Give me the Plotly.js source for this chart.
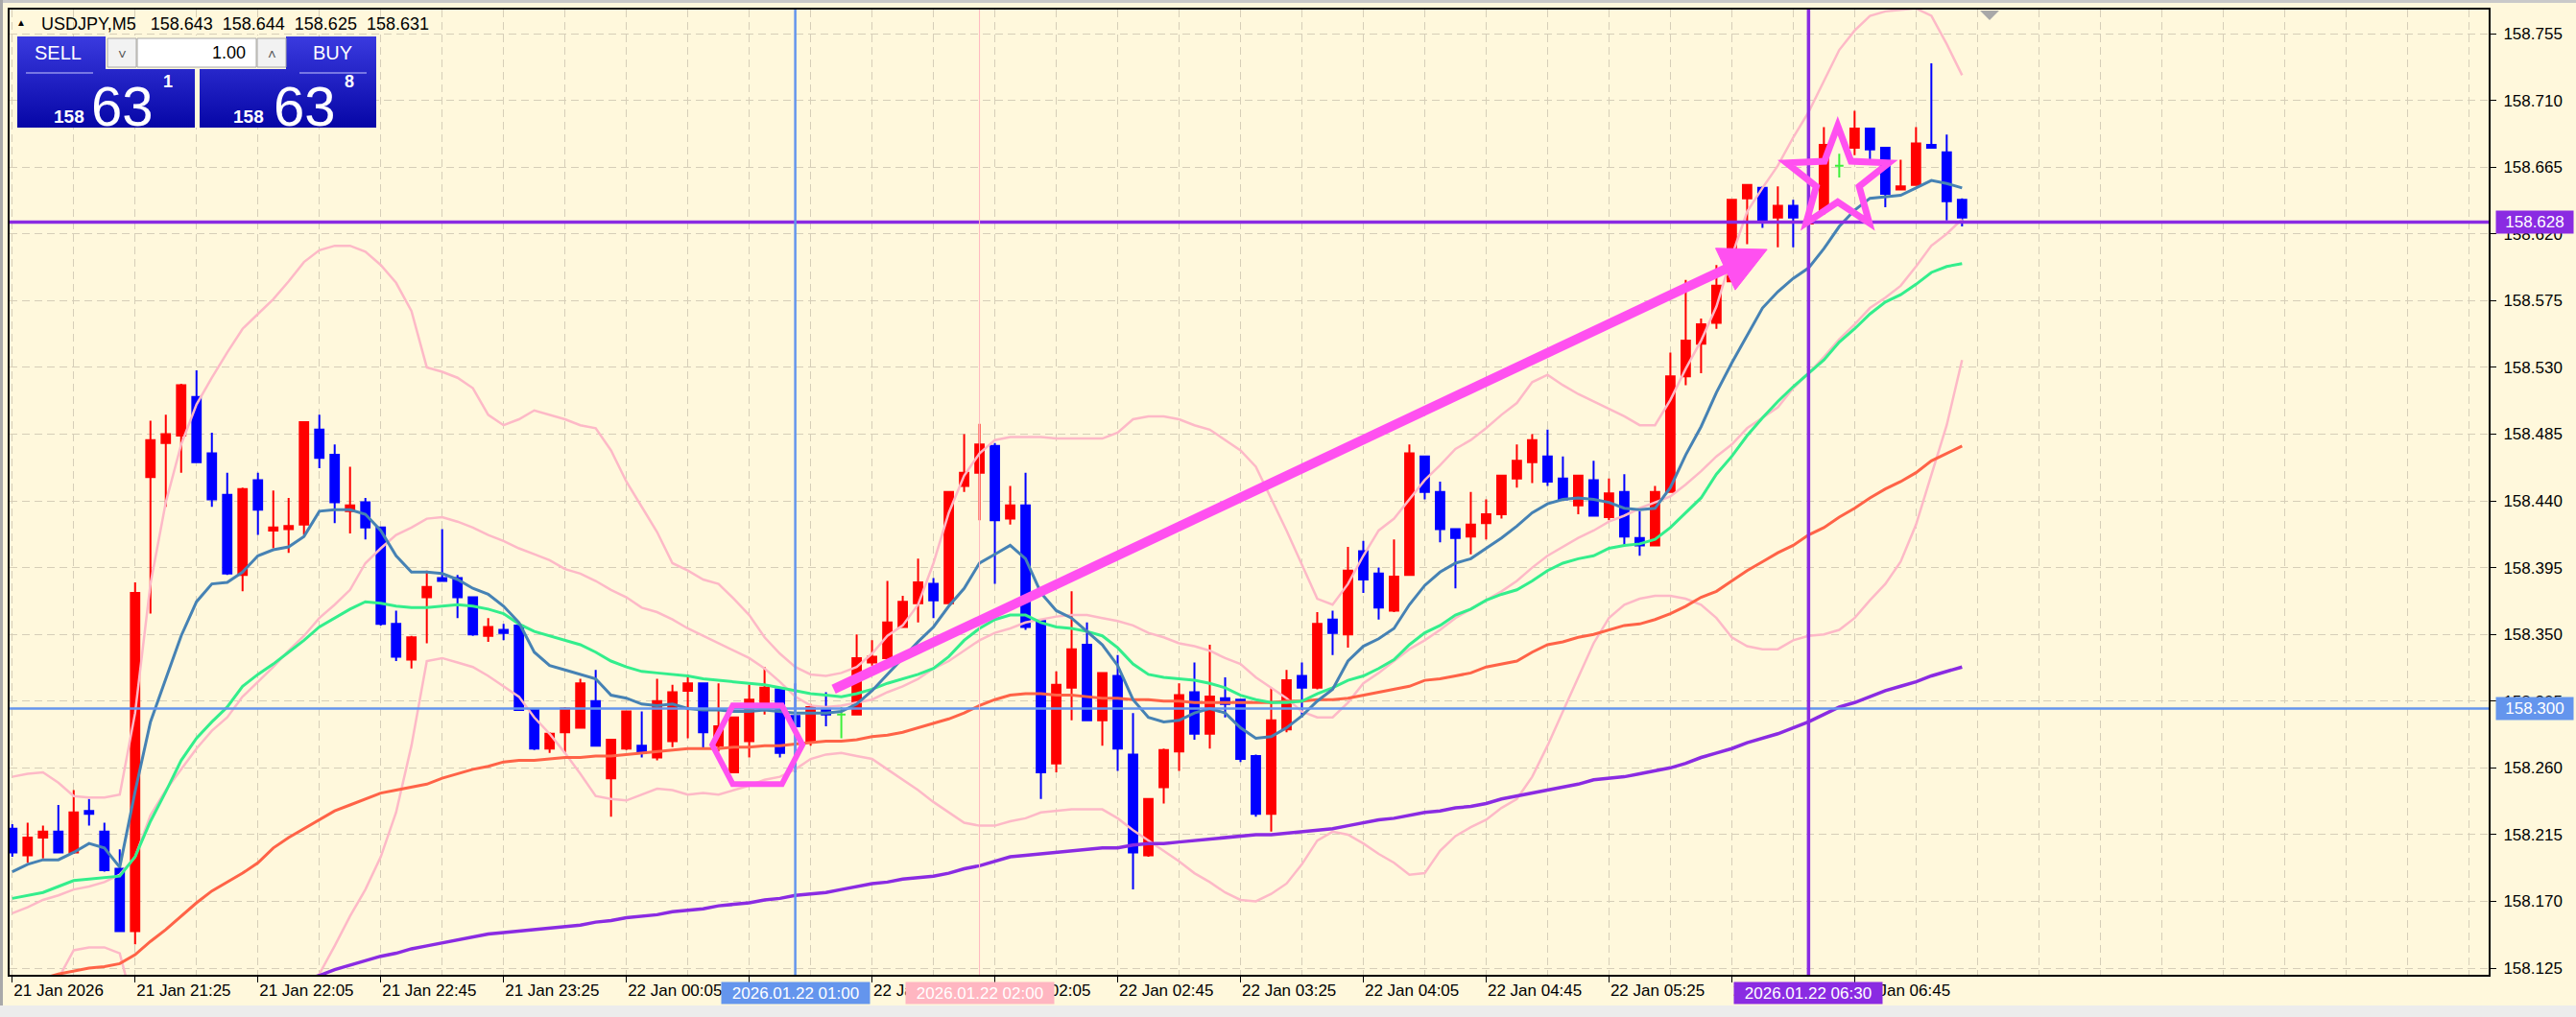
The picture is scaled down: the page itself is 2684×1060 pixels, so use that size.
<!DOCTYPE html>
<html><head><meta charset="utf-8">
<script src="https://cdn.plot.ly/plotly-3.0.1.min.js"></script>
<style>html,body{margin:0;padding:0;background:#FFF8DC;overflow:hidden}#chart{width:2684px;height:1060px}</style>
</head><body><div id="chart"></div>
<script>
// ---------------- DATA (USDJPY M5, 21 Jan 20:45 .. 22 Jan 07:20) ----------------
const symbolInfo = 'USDJPY,M5';
const lastQuote = ['158.643', '158.644', '158.625', '158.631'];

const open = [158.219,158.201,158.213,158.217,158.203,158.231,158.217,158.192,158.150,158.456,
158.479,158.484,158.510,158.472,158.444,158.390,158.454,158.420,158.421,158.424,
158.488,158.471,158.433,158.439,158.422,158.357,158.333,158.375,158.388,158.388,
158.375,158.349,158.353,158.356,158.299,158.273,158.284,158.287,158.305,158.253,
158.273,158.275,158.267,158.278,158.312,158.317,158.275,158.257,158.278,158.304,
158.313,158.295,158.278,158.300,158.296,158.296,158.331,158.334,158.355,158.371,
158.384,158.371,158.450,158.459,158.477,158.428,158.437,158.359,158.263,158.314,
158.343,158.292,158.322,158.269,158.201,158.247,158.271,158.311,158.283,158.307,
158.306,158.268,158.229,158.286,158.322,158.314,158.360,158.350,158.406,158.391,
158.366,158.390,158.470,158.446,158.421,158.416,158.425,158.431,158.455,158.466,
158.470,158.455,158.437,158.454,158.429,158.446,158.415,158.410,158.446,158.524,
158.546,158.560,158.588,158.644,158.651,158.631,158.639,158.627,158.636,158.666,
158.678,158.691,158.678,158.650,158.653,158.680,158.675,158.643];
const high = [158.222,158.223,158.221,158.235,158.245,158.239,158.223,158.205,158.385,158.494,
158.498,158.519,158.528,158.486,158.459,158.449,158.459,158.447,158.442,158.493,
158.498,158.478,158.463,158.442,158.422,158.366,158.349,158.393,158.421,158.390,
158.375,158.361,158.357,158.358,158.300,158.284,158.301,158.320,158.326,158.279,
158.298,158.298,158.320,158.316,158.323,158.317,158.317,158.294,158.316,158.328,
158.314,158.317,158.303,158.311,158.301,158.350,158.346,158.386,158.376,158.401,
158.388,158.446,158.485,158.492,158.479,158.450,158.459,158.359,158.325,158.379,
158.358,158.324,158.336,158.297,158.239,158.273,158.317,158.331,158.343,158.321,
158.306,158.269,158.314,158.326,158.331,158.365,158.366,158.409,158.413,158.395,
158.414,158.478,158.470,158.453,158.421,158.446,158.441,158.457,158.478,158.485,
158.488,158.470,158.457,158.467,158.455,158.458,158.433,158.450,158.540,158.589,
158.563,158.599,158.643,158.653,158.652,158.652,158.643,158.632,158.692,158.674,
158.703,158.691,158.678,158.670,158.692,158.735,158.687,158.644];
const low = [158.200,158.196,158.199,158.203,158.202,158.221,158.190,158.150,158.141,158.364,
158.436,158.459,158.466,158.436,158.390,158.379,158.417,158.408,158.405,158.417,
158.462,158.425,158.418,158.414,158.356,158.332,158.327,158.344,158.386,158.361,
158.349,158.345,158.346,158.299,158.272,158.270,158.270,158.287,158.275,158.227,
158.272,158.267,158.265,158.274,158.280,158.273,158.271,158.257,158.267,158.296,
158.267,158.257,158.275,158.288,158.280,158.296,158.329,158.334,158.355,158.358,
158.361,158.371,158.446,158.427,158.384,158.424,158.353,158.239,158.257,158.292,
158.292,158.275,158.258,158.178,158.200,158.236,158.258,158.279,158.273,158.294,
158.264,158.227,158.217,158.284,158.294,158.313,158.336,158.341,158.378,158.360,
158.365,158.390,158.441,158.412,158.381,158.404,158.414,158.428,158.449,158.452,
158.450,158.440,158.431,158.430,158.427,158.410,158.403,158.410,158.446,158.518,
158.526,158.556,158.588,158.613,158.624,158.611,158.611,158.625,158.633,158.658,
158.673,158.670,158.638,158.650,158.653,158.678,158.629,158.625];
const close = [158.203,158.213,158.217,158.203,158.230,158.229,158.191,158.150,158.378,158.481,
158.485,158.518,158.466,158.441,158.391,158.448,158.434,158.422,158.423,158.493,
158.469,158.439,158.437,158.422,158.357,158.335,158.348,158.382,158.386,158.375,
158.350,158.355,158.351,158.299,158.273,158.283,158.300,158.317,158.275,158.279,
158.298,158.270,158.305,158.311,158.317,158.284,158.288,158.294,158.306,158.314,
158.270,158.288,158.301,158.296,158.296,158.334,158.335,158.358,158.372,158.385,
158.373,158.446,158.459,158.478,158.427,158.437,158.355,158.257,158.316,158.340,
158.292,158.324,158.273,158.203,158.239,158.272,158.309,158.283,158.308,158.303,
158.266,158.229,158.292,158.319,158.314,158.357,158.351,158.393,158.387,158.368,
158.389,158.472,158.446,158.421,158.415,158.424,158.431,158.457,158.467,158.481,
158.453,158.441,158.457,158.430,158.445,158.416,158.410,158.446,158.524,158.548,
158.559,158.585,158.643,158.653,158.629,158.639,158.631,158.629,158.680,158.666,
158.691,158.677,158.647,158.652,158.681,158.678,158.642,158.631];

// moving averages
const maFast = [158.190,158.195,158.198,158.198,158.203,158.209,158.206,158.193,158.244,158.291,
158.320,158.349,158.372,158.384,158.385,158.392,158.403,158.407,158.409,158.416,
158.433,158.434,158.434,158.431,158.420,158.403,158.392,158.392,158.391,158.387,
158.381,158.377,158.369,158.358,158.338,158.329,158.326,158.323,158.320,158.309,
158.307,158.303,158.302,158.303,158.300,158.299,158.299,158.298,158.298,158.299,
158.298,158.297,158.297,158.297,158.298,158.303,158.312,158.323,158.334,158.345,
158.355,158.369,158.381,158.398,158.404,158.410,158.401,158.378,158.366,158.361,
158.352,158.343,158.329,158.306,158.294,158.291,158.292,158.297,158.300,158.297,
158.287,158.280,158.281,158.287,158.295,158.305,158.313,158.332,158.342,158.347,
158.354,158.370,158.383,158.392,158.398,158.401,158.408,158.415,158.423,158.432,
158.438,158.441,158.442,158.441,158.439,158.435,158.434,158.435,158.449,158.471,
158.490,158.513,158.533,158.552,158.570,158.581,158.590,158.597,158.610,158.625,
158.636,158.644,158.645,158.646,158.651,158.656,158.654,158.651];
const maMid = [158.172,158.174,158.176,158.180,158.184,158.185,158.186,158.187,158.200,158.224,
158.244,158.265,158.280,158.291,158.301,158.315,158.323,158.330,158.338,158.346,
158.355,158.361,158.367,158.372,158.371,158.369,158.368,158.368,158.369,158.370,
158.369,158.367,158.364,158.357,158.352,158.349,158.346,158.343,158.338,158.332,
158.328,158.325,158.324,158.323,158.322,158.320,158.319,158.318,158.317,158.316,
158.314,158.312,158.310,158.309,158.308,158.310,158.313,158.317,158.320,158.323,
158.327,158.335,158.346,158.354,158.360,158.363,158.363,158.358,158.355,158.354,
158.352,158.349,158.341,158.330,158.323,158.321,158.320,158.319,158.317,158.314,
158.309,158.306,158.304,158.304,158.305,158.310,158.314,158.319,158.322,158.327,
158.333,158.343,158.351,158.356,158.363,158.367,158.373,158.377,158.380,158.386,
158.393,158.398,158.401,158.403,158.408,158.410,158.411,158.414,158.422,158.432,
158.442,158.458,158.470,158.484,158.496,158.507,158.517,158.526,158.535,158.547,
158.556,158.566,158.574,158.579,158.586,158.594,158.598,158.600];
const maSlow = [158.114,158.116,158.118,158.121,158.123,158.125,158.126,158.128,158.134,158.143,
158.151,158.160,158.169,158.177,158.183,158.189,158.196,158.206,158.213,158.219,
158.225,158.231,158.235,158.239,158.243,158.245,158.247,158.249,158.253,158.256,
158.259,158.261,158.264,158.265,158.265,158.266,158.267,158.267,158.268,158.268,
158.269,158.270,158.271,158.272,158.273,158.273,158.273,158.274,158.274,158.275,
158.275,158.276,158.277,158.278,158.278,158.279,158.281,158.282,158.284,158.287,
158.290,158.293,158.297,158.302,158.306,158.309,158.310,158.310,158.309,158.309,
158.308,158.307,158.307,158.306,158.306,158.305,158.305,158.304,158.304,158.304,
158.304,158.304,158.304,158.305,158.305,158.306,158.306,158.307,158.309,158.311,
158.313,158.315,158.319,158.320,158.322,158.324,158.328,158.330,158.332,158.338,
158.343,158.345,158.348,158.350,158.353,158.356,158.357,158.360,158.364,158.369,
158.375,158.379,158.386,158.393,158.399,158.405,158.410,158.417,158.422,158.429,
158.435,158.442,158.448,158.453,158.459,158.467,158.472,158.477];
const maLong = [null,null,null,null,null,null,null,null,null,null,
null,null,null,null,null,null,null,null,null,158.117,
158.120,158.124,158.127,158.130,158.133,158.135,158.138,158.140,158.142,158.144,
158.146,158.148,158.149,158.150,158.151,158.152,158.153,158.154,158.156,158.157,
158.159,158.160,158.161,158.163,158.164,158.165,158.167,158.168,158.169,158.171,
158.172,158.174,158.175,158.176,158.178,158.180,158.182,158.183,158.185,158.186,
158.187,158.189,158.192,158.194,158.197,158.200,158.201,158.202,158.203,158.204,
158.205,158.206,158.206,158.208,158.209,158.209,158.210,158.211,158.212,158.213,
158.214,158.215,158.215,158.216,158.217,158.218,158.219,158.221,158.223,158.225,
158.226,158.228,158.230,158.231,158.233,158.234,158.236,158.239,158.241,158.243,
158.245,158.247,158.249,158.252,158.253,158.254,158.256,158.258,158.260,158.263,
158.267,158.270,158.273,158.277,158.280,158.283,158.287,158.291,158.296,158.301,
158.304,158.308,158.312,158.315,158.318,158.322,158.325,158.328];

// Bollinger bands
const bbUpper = [158.254,158.256,158.257,158.250,158.241,158.240,158.240,158.242,158.297,158.384,
158.439,158.478,158.505,158.523,158.540,158.556,158.566,158.576,158.588,158.601,
158.609,158.612,158.612,158.608,158.599,158.587,158.568,158.530,158.527,158.523,
158.516,158.498,158.491,158.495,158.501,158.498,158.495,158.491,158.489,158.474,
158.453,158.436,158.419,158.398,158.393,158.387,158.384,158.374,158.363,158.348,
158.337,158.328,158.323,158.322,158.324,158.328,158.337,158.349,158.356,158.370,
158.398,158.432,158.457,158.472,158.481,158.483,158.483,158.483,158.482,158.482,
158.482,158.482,158.486,158.495,158.497,158.497,158.495,158.491,158.488,158.481,
158.474,158.463,158.442,158.420,158.397,158.374,158.370,158.384,158.403,158.420,
158.428,158.441,158.454,158.464,158.475,158.481,158.489,158.498,158.506,158.520,
158.525,158.518,158.512,158.507,158.502,158.497,158.491,158.491,158.508,158.529,
158.548,158.571,158.605,158.635,158.651,158.666,158.685,158.702,158.723,158.744,
158.757,158.767,158.770,158.771,158.772,158.767,158.748,158.727];
const bbMiddle = [158.162,158.166,158.171,158.174,158.178,158.180,158.183,158.188,158.200,158.228,
158.245,158.259,158.273,158.285,158.294,158.308,158.318,158.328,158.339,158.349,
158.361,158.370,158.380,158.398,158.408,158.417,158.422,158.428,158.429,158.426,
158.422,158.417,158.413,158.408,158.404,158.400,158.394,158.391,158.386,158.380,
158.375,158.368,158.365,158.360,158.354,158.349,158.344,158.339,158.334,158.327,
158.318,158.308,158.302,158.301,158.302,158.304,158.306,158.311,158.315,158.320,
158.327,158.332,158.339,158.346,158.351,158.354,158.358,158.360,158.362,158.363,
158.363,158.361,158.359,158.356,158.351,158.348,158.344,158.342,158.339,158.334,
158.330,158.321,158.314,158.307,158.298,158.294,158.294,158.304,158.317,158.324,
158.332,158.340,158.346,158.353,158.361,158.367,158.373,158.379,158.386,158.395,
158.403,158.409,158.415,158.420,158.426,158.430,158.435,158.439,158.443,158.451,
158.460,158.470,158.478,158.489,158.496,158.503,158.516,158.526,158.537,158.549,
158.559,158.570,158.577,158.585,158.598,158.612,158.620,158.630];
const bbLower = [158.070,158.085,158.100,158.118,158.137,158.139,158.139,158.135,158.095,null,
null,null,null,null,null,null,null,null,null,158.095,
158.121,158.140,158.160,158.178,158.200,158.230,158.275,158.332,158.334,158.331,
158.328,158.322,158.315,158.308,158.294,158.283,158.270,158.256,158.241,158.239,
158.238,158.242,158.246,158.245,158.242,158.243,158.242,158.245,158.248,158.252,
158.254,158.259,158.266,158.269,158.270,158.268,158.266,158.259,158.252,158.245,
158.237,158.230,158.223,158.221,158.221,158.224,158.226,158.230,158.231,158.232,
158.232,158.232,158.226,158.218,158.211,158.204,158.197,158.189,158.183,158.176,
158.171,158.170,158.175,158.182,158.195,158.211,158.217,158.215,158.209,158.202,
158.196,158.188,158.189,158.204,158.214,158.220,158.225,158.233,158.239,158.254,
158.275,158.298,158.321,158.344,158.361,158.370,158.374,158.376,158.376,158.374,
158.370,158.361,158.348,158.342,158.340,158.340,158.346,158.349,158.350,158.353,
158.361,158.373,158.384,158.399,158.424,158.458,158.491,158.535];

// axis ticks
const xTickBars = [0,8,16,24,32,40,48,56,64,72,80,88,96,104,112,120];
const xTickLabels = ['21 Jan 2026','21 Jan 21:25','21 Jan 22:05','21 Jan 22:45','21 Jan 23:25',
'22 Jan 00:05','22 Jan 00:45','22 Jan 01:25','22 Jan 02:05','22 Jan 02:45','22 Jan 03:25',
'22 Jan 04:05','22 Jan 04:45','22 Jan 05:25','22 Jan 06:05','22 Jan 06:45'];
const yTickVals = [158.125,158.170,158.215,158.260,158.305,158.350,158.395,158.440,158.485,
158.530,158.575,158.620,158.665,158.710,158.755];

// drawn objects
const hLinePrices = [158.300, 158.628];
const vLineBars = [51, 63, 117];
const vLineLabels = ['2026.01.22 01:00', '2026.01.22 02:00', '2026.01.22 06:30'];
const arrowFrom = [53.5, 158.313];
const arrowTo = [114.3, 158.6095];
const hexCenter = [48.53, 158.2755];
const starCenter = [118.9, 158.6567];
const sellQuote = ['158', '63', '1'];
const buyQuote = ['158', '63', '8'];
const lotSize = '1.00';

// ---------------- LAYOUT / STYLE ----------------
const FONT = 'Liberation Sans, Arial, sans-serif';
const CREAM = '#FFF8DC';
const GRID = '#D6CEB8';
const MAG = '#FF50F0';
const PINK = '#FDB9C7';
const W = 2684, H = 1060;
const M = {l: 10, r: 91, t: 10, b: 44};
const PW = W - M.l - M.r, PH = H - M.t - M.b;
const xRange = [-0.175, 161.3];
const yRange = [158.1205, 158.7712];
const pxPerBar = PW / (xRange[1] - xRange[0]);
const pxPerPrice = PH / (yRange[1] - yRange[0]);
const PX = px => (px - M.l) / PW;
const PY = py => (M.t + PH - py) / PH;
const b2px = b => M.l + (b - xRange[0]) * pxPerBar;
const p2py = p => M.t + (yRange[1] - p) * pxPerPrice;
const px2b = px => xRange[0] + (px - M.l) / pxPerBar;
const py2p = py => yRange[1] - (py - M.t) / pxPerPrice;
const pathFromPx = (pts, closed) => pts.map((q, k) => (k ? 'L' : 'M') + px2b(q[0]).toFixed(4) + ',' + py2p(q[1]).toFixed(5)).join(' ') + (closed ? ' Z' : '');

const bars = open.map((_, i) => i);
const isDoji = bars.map(i => open[i] === close[i]);
const pick = (arr, want) => bars.filter(i => isDoji[i] === want).map(i => arr[i]);

const traces = [];
traces.push({type: 'candlestick', x: pick(bars, false), open: pick(open, false), high: pick(high, false),
  low: pick(low, false), close: pick(close, false), whiskerwidth: 0, hoverinfo: 'skip',
  increasing: {line: {color: '#FF0000', width: 2}, fillcolor: '#FF0000'},
  decreasing: {line: {color: '#0000FF', width: 2}, fillcolor: '#0000FF'}});
traces.push({type: 'candlestick', x: pick(bars, true), open: pick(open, true), high: pick(high, true),
  low: pick(low, true), close: pick(close, true), whiskerwidth: 0, hoverinfo: 'skip',
  increasing: {line: {color: '#3CF03C', width: 2}, fillcolor: '#3CF03C'},
  decreasing: {line: {color: '#3CF03C', width: 2}, fillcolor: '#3CF03C'}});
const lineTrace = (y, color, width) => ({type: 'scatter', mode: 'lines', x: bars, y: y,
  line: {color: color, width: width}, hoverinfo: 'skip', connectgaps: false});
traces.push(lineTrace(bbUpper, PINK, 2.5));
traces.push(lineTrace(bbMiddle, PINK, 2.5));
traces.push(lineTrace(bbLower, PINK, 2.5));
traces.push(lineTrace(maLong, '#8A2BE2', 3.5));
traces.push(lineTrace(maSlow, '#FF6347', 3));
traces.push(lineTrace(maMid, '#33EE8C', 3));
traces.push(lineTrace(maFast, '#4682B4', 3));

// one-click trading panel (pixel axes overlay)
const panelBox = (pts) => ({type: 'scatter', xaxis: 'x2', yaxis: 'y2', mode: 'lines',
  x: pts.map(q => q[0]), y: pts.map(q => q[1]), line: {width: 0, color: 'rgba(0,0,0,0)'},
  fill: 'toself', fillcolor: '#1818C0', hoverinfo: 'skip',
  fillgradient: {type: 'vertical', colorscale: [[0, '#3A3ADF'], [1, '#0606A6']], start: 38, stop: 133}});
traces.push(panelBox([[18,38],[110,38],[110,72],[203,72],[203,133],[18,133],[18,38]]));
traces.push(panelBox([[298,38],[392,38],[392,133],[208,133],[208,72],[298,72],[298,38]]));

// ---------------- SHAPES ----------------
const shapes = [];
const hStyles = [{color: '#6495ED', width: 2.5}, {color: '#8A2BE2', width: 3.5}];
hLinePrices.forEach((p, k) => shapes.push({type: 'line', xref: 'paper', x0: 0, x1: 1, yref: 'y', y0: p, y1: p,
  line: hStyles[k], layer: 'above'}));
const vStyles = [{color: '#6495ED', width: 2.5}, {color: '#FFB6C1', width: 1}, {color: '#8A2BE2', width: 3.5}];
vLineBars.forEach((b, k) => shapes.push({type: 'line', xref: 'x', x0: b, x1: b, yref: 'paper', y0: 0, y1: 1,
  line: vStyles[k], layer: 'above'}));

// hexagon
(function () {
  const cx = b2px(hexCenter[0]), cy = p2py(hexCenter[1]);
  const hw = 47, hh = 41, ht = 25.6;
  const pts = [[cx - hw, cy], [cx - ht, cy - hh], [cx + ht, cy - hh], [cx + hw, cy], [cx + ht, cy + hh], [cx - ht, cy + hh]];
  shapes.push({type: 'path', xref: 'x', yref: 'y', path: pathFromPx(pts, true), line: {color: MAG, width: 6}, layer: 'above'});
})();
// arrow
(function () {
  const sx = b2px(arrowFrom[0]), sy = p2py(arrowFrom[1]);
  const tx = b2px(arrowTo[0]), ty = p2py(arrowTo[1]);
  const len = Math.hypot(tx - sx, ty - sy), ux = (tx - sx) / len, uy = (ty - sy) / len;
  const nx = -uy, ny = ux, headL = 48, headW = 24;
  const bx = tx - ux * headL, by = ty - uy * headL;
  shapes.push({type: 'path', xref: 'x', yref: 'y', path: pathFromPx([[sx, sy], [bx + ux * 6, by + uy * 6]], false),
    line: {color: MAG, width: 10}, layer: 'above'});
  shapes.push({type: 'path', xref: 'x', yref: 'y', path: pathFromPx([[tx, ty], [bx + nx * headW, by + ny * headW], [bx - nx * headW, by - ny * headW]], true),
    line: {color: MAG, width: 1}, fillcolor: MAG, layer: 'above'});
})();
// star
(function () {
  const cx = b2px(starCenter[0]), cy = p2py(starCenter[1]);
  const R = 56, r = 23.5, pts = [];
  for (let k = 0; k < 10; k++) {
    const a = -Math.PI / 2 + k * Math.PI / 5, rr = k % 2 ? r : R;
    pts.push([cx + rr * Math.cos(a), cy + rr * Math.sin(a)]);
  }
  shapes.push({type: 'path', xref: 'x', yref: 'y', path: pathFromPx(pts, true), line: {color: MAG, width: 7}, layer: 'above'});
})();

// window frame strips
const paperRect = (x0, y0, x1, y1, fill, lineColor, lw) => ({type: 'rect', xref: 'paper', yref: 'paper',
  x0: PX(x0), x1: PX(x1), y0: PY(y1), y1: PY(y0), fillcolor: fill,
  line: {color: lineColor || fill, width: lw === undefined ? 0 : lw}, layer: 'above'});
shapes.push(paperRect(0, 0, W, 3, '#C9C9C9'));
shapes.push(paperRect(0, 0, 3, H, '#A9A9A9'));
shapes.push(paperRect(0, 1048, W, H, '#ECECEC'));
// chart shift marker
shapes.push({type: 'path', xref: 'paper', yref: 'paper', fillcolor: '#A8A8A8', line: {width: 0},
  path: 'M' + PX(2063) + ',' + PY(11) + ' L' + PX(2083) + ',' + PY(11) + ' L' + PX(2073) + ',' + PY(21) + ' Z', layer: 'above'});
// panel controls
shapes.push(paperRect(110, 37, 298, 72, CREAM));
shapes.push(paperRect(203, 72, 208, 133, CREAM));
shapes.push(paperRect(112, 40, 142, 70, '#F2F2F2', '#A8A8A8', 1));
shapes.push(paperRect(143, 40, 267, 70, '#FFFFFF', '#A8A8A8', 1));
shapes.push(paperRect(268, 40, 298, 70, '#F2F2F2', '#A8A8A8', 1));
shapes.push({type: 'line', xref: 'paper', yref: 'paper', x0: PX(27), x1: PX(97), y0: PY(76), y1: PY(76), line: {color: '#C8C8FF', width: 1}, layer: 'above'});
shapes.push({type: 'line', xref: 'paper', yref: 'paper', x0: PX(312), x1: PX(382), y0: PY(76), y1: PY(76), line: {color: '#C8C8FF', width: 1}, layer: 'above'});

// ---------------- ANNOTATIONS ----------------
const ann = [];
const txt = (px, py, text, size, color, anchor, extra) => Object.assign({xref: 'paper', yref: 'paper', x: PX(px), y: PY(py),
  text: text, showarrow: false, xanchor: anchor || 'center', yanchor: 'middle',
  font: {family: FONT, size: size, color: color}}, extra || {});
ann.push(txt(22, 24, '\u25B2', 10, '#000'));
ann.push(txt(41, 25, symbolInfo + '\u00A0\u00A0\u00A0' + lastQuote.join('\u00A0 '), 18, '#000', 'left'));
ann.push(txt(60, 55, 'SELL', 20, '#FFFFFF'));
ann.push(txt(346.5, 55, 'BUY', 20, '#FFFFFF'));
ann.push(txt(71.5, 122, '<b>' + sellQuote[0] + '</b>', 19, '#FFFFFF'));
ann.push(txt(127.5, 110, sellQuote[1], 58, '#FFFFFF'));
ann.push(txt(175, 85, '<b>' + sellQuote[2] + '</b>', 18, '#FFFFFF'));
ann.push(txt(259, 122, '<b>' + buyQuote[0] + '</b>', 19, '#FFFFFF'));
ann.push(txt(317.5, 110, buyQuote[1], 58, '#FFFFFF'));
ann.push(txt(364, 85, '<b>' + buyQuote[2] + '</b>', 18, '#FFFFFF'));
ann.push(txt(258, 55, lotSize, 18, '#000', 'right'));
ann.push(txt(127, 56, '\u02C5', 15, '#555'));
ann.push(txt(283, 56, '\u02C4', 15, '#555'));
// price labels on the axis
const hBoxColors = ['#6495ED', '#8A2BE2'];
hLinePrices.forEach((p, k) => ann.push({xref: 'paper', yref: 'y', x: PX(2600), y: p, xanchor: 'left', yanchor: 'middle',
  text: p.toFixed(3), showarrow: false, bgcolor: hBoxColors[k], width: 80, height: 23, borderpad: 0, align: 'center',
  font: {family: FONT, size: 17, color: '#FFFFFF'}}));
// time labels on the axis
const vBoxColors = ['#6495ED', '#FFB6C1', '#8A2BE2'];
vLineBars.forEach((b, k) => ann.push({xref: 'x', yref: 'paper', x: b, y: PY(1035), xanchor: 'center', yanchor: 'middle',
  text: vLineLabels[k], showarrow: false, bgcolor: vBoxColors[k], width: 154, height: 22, borderpad: 0, align: 'center',
  font: {family: FONT, size: 17, color: '#FFFFFF'}}));

const layout = {
  width: W, height: H, margin: M, showlegend: false,
  paper_bgcolor: CREAM, plot_bgcolor: CREAM,
  font: {family: FONT, size: 17, color: '#000'},
  boxgap: 0.45, boxgroupgap: 0,
  xaxis: {type: 'linear', range: xRange, fixedrange: true, rangeslider: {visible: false},
    tickmode: 'array', tickvals: xTickBars, ticktext: xTickLabels,
    ticks: 'outside', ticklen: 6, tickwidth: 1, tickcolor: '#000', ticklabelposition: 'outside right',
    tickfont: {family: FONT, size: 17, color: '#000'},
    showgrid: true, gridcolor: GRID, gridwidth: 1, griddash: '8px,5px',
    minor: {tickmode: 'linear', tick0: 0, dtick: 4, showgrid: true, gridcolor: GRID, gridwidth: 1, griddash: '8px,5px', ticks: ''},
    showline: true, linecolor: '#000', linewidth: 2, mirror: true, zeroline: false},
  yaxis: {side: 'right', range: yRange, fixedrange: true,
    tickmode: 'array', tickvals: yTickVals, ticktext: yTickVals.map(v => v.toFixed(3)),
    ticks: 'outside', ticklen: 6, tickwidth: 1, tickcolor: '#000', ticklabelstandoff: 4,
    tickfont: {family: FONT, size: 17, color: '#000'},
    showgrid: true, gridcolor: GRID, gridwidth: 1, griddash: '8px,5px',
    showline: true, linecolor: '#000', linewidth: 2, mirror: true, zeroline: false},
  xaxis2: {overlaying: 'x', anchor: 'y2', range: [M.l, M.l + PW], visible: false, fixedrange: true},
  yaxis2: {overlaying: 'y', anchor: 'x2', range: [M.t + PH, M.t], visible: false, fixedrange: true},
  shapes: shapes, annotations: ann
};

Plotly.newPlot('chart', traces, layout, {staticPlot: true, displayModeBar: false});
</script>
</body></html>
